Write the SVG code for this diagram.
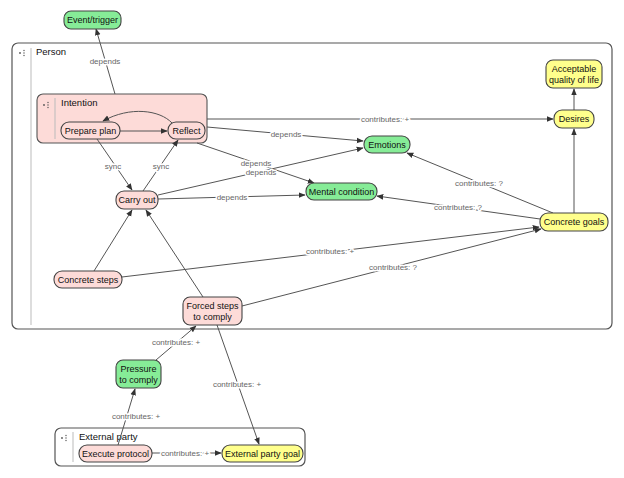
<svg xmlns="http://www.w3.org/2000/svg" width="624" height="478" viewBox="0 0 624 478">
<defs>
<marker id="ah" viewBox="0 0 10 10" refX="9" refY="5" markerWidth="7" markerHeight="7" orient="auto" markerUnits="userSpaceOnUse">
<path d="M0,1 L10,5 L0,9 z" fill="#333"/>
</marker>
<style>
.cont{fill:#fff;stroke:#555;stroke-width:1.2}
.div{stroke:#bbb;stroke-width:1}
.n{stroke:#444;stroke-width:1.1}
.g{fill:#86ec97}
.p{fill:#fddbd8}
.y{fill:#ffff8c}
.t{font-family:"Liberation Sans",Arial,sans-serif;font-size:9px;fill:#111;text-anchor:middle}
.ct{font-family:"Liberation Sans",Arial,sans-serif;font-size:9.5px;fill:#111}
.e{fill:none;stroke:#555;stroke-width:1;marker-end:url(#ah)}
.l{font-family:"Liberation Sans",Arial,sans-serif;font-size:8px;fill:#666;text-anchor:middle;stroke:#fff;stroke-width:3;paint-order:stroke;stroke-linejoin:round}
.dot{fill:#555}
</style>
</defs>
<rect width="624" height="478" fill="#fff"/>

<g id="person">
<rect class="cont" x="12" y="43" width="600" height="286" rx="6"/>
<line class="div" x1="31" y1="48" x2="31" y2="325"/>
<circle class="dot" cx="20" cy="53" r="0.9"/><circle class="dot" cx="24" cy="50.5" r="0.7"/><circle class="dot" cx="24" cy="53" r="0.7"/><circle class="dot" cx="24" cy="55.5" r="0.7"/>
<text class="ct" x="36" y="55">Person</text>
</g>

<g id="intention">
<rect x="37" y="94" width="170" height="49" rx="6" fill="#fddbd8" stroke="#555" stroke-width="1.1"/>
<line class="div" x1="55" y1="98" x2="55" y2="139"/>
<circle class="dot" cx="44" cy="105" r="0.9"/><circle class="dot" cx="48" cy="102.5" r="0.7"/><circle class="dot" cx="48" cy="105" r="0.7"/><circle class="dot" cx="48" cy="107.5" r="0.7"/>
<text class="ct" x="61" y="106">Intention</text>
</g>

<g id="external-party">
<rect class="cont" x="55" y="428" width="250" height="38" rx="6"/>
<line class="div" x1="73" y1="432" x2="73" y2="462"/>
<circle class="dot" cx="62" cy="438" r="0.9"/><circle class="dot" cx="66" cy="435.5" r="0.7"/><circle class="dot" cx="66" cy="438" r="0.7"/><circle class="dot" cx="66" cy="440.5" r="0.7"/>
<text class="ct" x="79" y="440">External party</text>
</g>

<g id="connectors">
<path class="e" d="M115,94 L96,29"/>
<text class="l" x="105" y="64">depends</text>
<path class="e" d="M120,131 L167,131"/>
<path class="e" d="M172,123 C160,110 130,106 103,121"/>
<path class="e" d="M97,139 L132,190"/>
<text class="l" x="113" y="169">sync</text>
<path class="e" d="M143,191 L178,140"/>
<text class="l" x="161" y="169">sync</text>
<path class="e" d="M94,271 L132,210"/>
<path class="e" d="M203,297 L146,210"/>
<path class="e" d="M158,199 L305,195"/>
<text class="l" x="232" y="200">depends</text>
<path class="e" d="M158,195 L363,148"/>
<path class="e" d="M197,143 L314,183"/>
<text class="l" x="256" y="166">depends</text>
<text class="l" x="261" y="175">depends</text>
<path class="e" d="M207,127 L363,141"/>
<text class="l" x="286" y="137">depends</text>
<path class="e" d="M207,119 L553,119"/>
<text class="l" x="385" y="122">contributes: +</text>
<path class="e" d="M574,110 L574,89"/>
<path class="e" d="M574,213 L574,129"/>
<path class="e" d="M553,213 L407,153"/>
<text class="l" x="479" y="186">contributes: ?</text>
<path class="e" d="M540,219 L377,196"/>
<text class="l" x="458" y="210">contributes: ?</text>
<path class="e" d="M122,277 L539,227"/>
<text class="l" x="330" y="254">contributes: +</text>
<path class="e" d="M242,306 L541,229"/>
<text class="l" x="393" y="270">contributes: ?</text>
<path class="e" d="M217,325 L259,444"/>
<text class="l" x="237" y="387">contributes: +</text>
<path class="e" d="M156,360 L196,326"/>
<text class="l" x="176" y="345">contributes: +</text>
<path class="e" d="M118,445 L135,389"/>
<text class="l" x="136" y="419">contributes: +</text>
<path class="e" d="M152,453 L221,453"/>
<text class="l" x="185" y="456">contributes: +</text>
</g>

<g id="event-trigger"><rect class="n g" x="64" y="11" width="57" height="18" rx="7"/><text class="t" x="92.5" y="23.2">Event/trigger</text></g>
<g id="prepare-plan"><rect class="n p" x="61" y="122" width="59" height="17" rx="8"/><text class="t" x="90.5" y="134">Prepare plan</text></g>
<g id="reflect"><rect class="n p" x="168" y="122" width="37" height="17" rx="8"/><text class="t" x="186.5" y="134">Reflect</text></g>
<g id="carry-out"><rect class="n p" x="116" y="191" width="42" height="18" rx="8"/><text class="t" x="137" y="203.2">Carry out</text></g>
<g id="concrete-steps"><rect class="n p" x="54" y="271" width="68" height="17" rx="8"/><text class="t" x="88" y="283">Concrete steps</text></g>
<g id="forced-steps"><rect class="n p" x="183" y="297" width="59" height="28" rx="7"/><text class="t" x="212.5" y="308.5">Forced steps</text><text class="t" x="212.5" y="320">to comply</text></g>
<g id="emotions"><rect class="n g" x="364" y="136" width="46" height="17" rx="8"/><text class="t" x="387" y="148">Emotions</text></g>
<g id="mental-condition"><rect class="n g" x="306" y="183" width="71" height="17" rx="8"/><text class="t" x="341.5" y="195">Mental condition</text></g>
<g id="acceptable-quality"><rect class="n y" x="546" y="60" width="56" height="28" rx="7"/><text class="t" x="574" y="71.5">Acceptable</text><text class="t" x="574" y="83">quality of life</text></g>
<g id="desires"><rect class="n y" x="554" y="110" width="40" height="18" rx="8"/><text class="t" x="574" y="122.2">Desires</text></g>
<g id="concrete-goals"><rect class="n y" x="540" y="213" width="68" height="18" rx="8"/><text class="t" x="574" y="225.2">Concrete goals</text></g>
<g id="pressure"><rect class="n g" x="116" y="360" width="45" height="28" rx="7"/><text class="t" x="138.5" y="371.5">Pressure</text><text class="t" x="138.5" y="383">to comply</text></g>
<g id="execute-protocol"><rect class="n p" x="79" y="445" width="73" height="17" rx="8"/><text class="t" x="115.5" y="457">Execute protocol</text></g>
<g id="external-party-goal"><rect class="n y" x="222" y="445" width="81" height="17" rx="8"/><text class="t" x="262.5" y="457">External party goal</text></g>
</svg>
